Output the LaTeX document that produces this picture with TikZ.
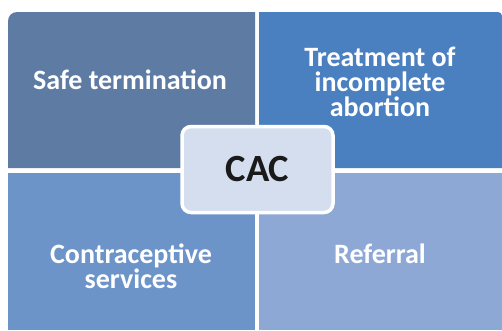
\documentclass[tikz,border=0pt]{standalone}
\usepackage{fontspec}
\setmainfont{Carlito}
\definecolor{cTL}{HTML}{5E7BA4}
\definecolor{cTR}{HTML}{4B80C0}
\definecolor{cBL}{HTML}{6D94C9}
\definecolor{cBR}{HTML}{8EA8D5}
\definecolor{cC}{HTML}{D5DEEF}
\definecolor{cTxt}{HTML}{1A1A1A}
\begin{document}
\begin{tikzpicture}[x=1pt,y=-1pt,
  quadtext/.style={text=white,font=\fontsize{28}{25}\selectfont\bfseries,align=center,inner sep=0pt},
  centerbox/.style={draw=white,line width=3.5pt,fill=cC,rounded corners=9pt,minimum width=151pt,minimum height=86pt,inner sep=0pt,text=cTxt,font=\fontsize{38.5}{40}\selectfont\bfseries}]
\useasboundingbox (0,0) rectangle (502,330);
\fill[white] (0,0) rectangle (502,330);
% quadrants
\fill[cTL] (8,168) [rounded corners=9pt] -- (8,12) [sharp corners] -- (255,12) -- (255,168) -- cycle;
\fill[cTR] (259,12) [rounded corners=4pt] -- (502,12) [sharp corners] -- (502,168) -- (259,168) -- cycle;
\fill[cBL] (8,173) rectangle (255,330);
\fill[cBR] (259,173) rectangle (502,330);
% labels
\node[quadtext] (safe) at (130,80) {Safe termination};
\node[quadtext] (treat) at (380,82) {Treatment of\\incomplete\\abortion};
\node[quadtext] (contra) at (131,266) {Contraceptive\\services};
\node[quadtext] (ref) at (380,254) {Referral};
% center
\node[centerbox] (cac) at (257.5,169.5) {CAC};
\end{tikzpicture}
\end{document}
